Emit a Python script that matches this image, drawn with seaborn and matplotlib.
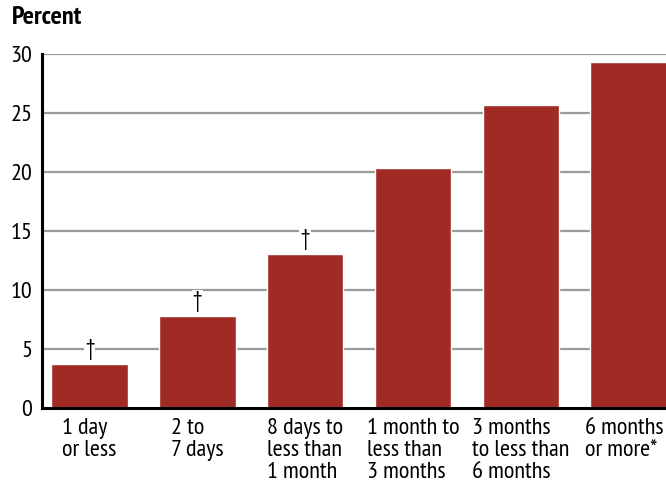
import matplotlib
matplotlib.use("Agg")
import matplotlib.pyplot as plt
import matplotlib.transforms as mtransforms
import seaborn as sns
import pandas as pd

categories = ["1 day\nor less", "2 to\n7 days", "8 days to\nless than\n1 month",
              "1 month to\nless than\n3 months", "3 months\nto less than\n6 months",
              "6 months\nor more*"]
values = [3.7, 7.8, 13.05, 20.3, 25.7, 29.3]
markers = ["†", "†", "†", "", "", ""]
yticks = [0, 5, 10, 15, 20, 25, 30]

sns.set_theme(style="white")
plt.rcParams["font.family"] = ["PT Sans Narrow", "DejaVu Sans"]
plt.rcParams["text.color"] = "black"

df = pd.DataFrame({"cat": categories, "val": values})

fig = plt.figure(figsize=(6.66, 4.88), dpi=100)
ax = fig.add_axes([42/666, 80/488, 1 - 42/666, 354/488])

for t in yticks[1:]:
    ax.axhline(t, color="#9a9a9a", lw=1.6, zorder=0)

sns.barplot(data=df, x="cat", y="val", color="#a02a24", saturation=1,
            width=0.71, ax=ax, zorder=2)

for i, (v, m) in enumerate(zip(values, markers)):
    if m:
        ax.text(i, v + 0.35, m, ha="center", va="bottom", fontsize=17,
                color="black", zorder=3,
                bbox=dict(facecolor="white", edgecolor="none", pad=0.8))

ax.set_xlim(-0.44, 5.345)
ax.set_ylim(0, 30)
ax.set_yticks(yticks)
ax.set_yticklabels([str(t) for t in yticks], fontsize=17.5, color="black")
ax.set_xticks(range(len(categories)))
ax.set_xticklabels(categories, fontsize=17.5, ha="center", multialignment="left",
                   linespacing=1.08, color="black")
ax.tick_params(axis="both", length=0)
ax.tick_params(axis="x", pad=7)
ax.tick_params(axis="y", pad=7)
lbl = ax.get_xticklabels()[-1]
lbl.set_transform(lbl.get_transform() +
                  mtransforms.ScaledTranslation(-4/100, 0, fig.dpi_scale_trans))
ax.set_xlabel("")
ax.set_ylabel("")
for s in ["top", "right"]:
    ax.spines[s].set_visible(False)
for s in ["left", "bottom"]:
    ax.spines[s].set_color("black")
    ax.spines[s].set_linewidth(2.2)
    ax.spines[s].set_zorder(4)

fig.text(12/666, 1 - 18/488, "Percent", fontsize=19, fontweight="bold",
         ha="left", va="center", color="black")

fig.savefig("out.png", dpi=100, facecolor="white")
